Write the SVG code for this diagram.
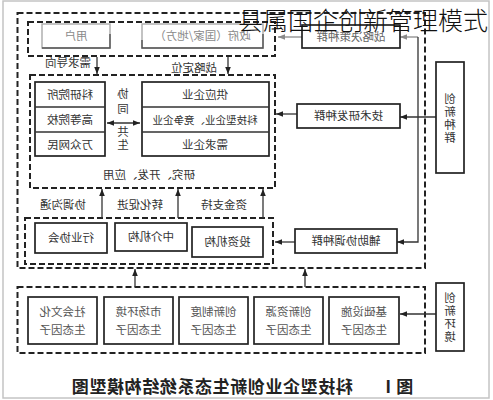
<svg xmlns="http://www.w3.org/2000/svg" width="493" height="400" viewBox="0 0 493 400">
<style>
.t{font-family:"Noto Sans CJK SC","Noto Sans CJK JP",sans-serif;font-size:11.5px;fill:#333;text-anchor:middle}
.g{fill:#8a8a8a}
.vt{writing-mode:vertical-rl;text-orientation:upright;letter-spacing:1.5px}
.cap{font-size:17px;font-weight:bold;fill:#222;letter-spacing:0.6px}
.dash{fill:none;stroke:#222;stroke-width:2;stroke-dasharray:6 3}
.box{fill:#fff;stroke:#222;stroke-width:1.7}
.lbox{fill:#fff;stroke:#aaa;stroke-width:1.4}
.ln{fill:none;stroke:#333;stroke-width:1.3}
.gl{fill:none;stroke:#8a8a8a;stroke-width:1.3}
</style>
<defs>
<marker id="ah" viewBox="0 0 10 10" refX="10" refY="5" markerWidth="7" markerHeight="7" markerUnits="userSpaceOnUse" orient="auto-start-reverse"><path d="M0,1 L10,5 L0,9 z" fill="#222"/></marker>
<marker id="ahg" viewBox="0 0 10 10" refX="10" refY="5" markerWidth="7" markerHeight="7" markerUnits="userSpaceOnUse" orient="auto-start-reverse"><path d="M0,1 L10,5 L0,9 z" fill="#8a8a8a"/></marker>
</defs>
<rect x="0" y="0" width="493" height="400" fill="#fff"/>
<rect x="3" y="1" width="486" height="397" fill="none" stroke="#c4c4c4" stroke-width="1.5"/>

<g id="frames">
<rect class="dash" x="17.5" y="13" width="407.5" height="255"/>
<rect class="dash" x="28" y="22" width="247" height="34"/>
<rect class="dash" x="30" y="75" width="245" height="113"/>
<rect class="dash" x="25" y="218" width="248" height="46"/>
<rect class="dash" x="17.5" y="287" width="407.5" height="66"/>
</g>

<g id="connectors">
<path class="gl" d="M418,37 H400" marker-end="url(#ahg)"/>
<path class="gl" d="M302,37 H278" marker-end="url(#ahg)"/>
<path class="ln" d="M418,37 V242 H397" marker-end="url(#ah)"/>
<path class="ln" d="M436,117 H400" marker-end="url(#ah)"/>
<path class="ln" d="M297,114 H276" marker-end="url(#ah)"/>
<path class="ln" d="M295,242 H275" marker-end="url(#ah)"/>
<path class="ln" d="M436,314 H400" marker-end="url(#ah)"/>
<path class="ln" d="M97,57 V74" marker-end="url(#ah)"/>
<path class="ln" d="M228,57 V74" marker-end="url(#ah)"/>
<path class="ln" d="M107,123 H140" marker-start="url(#ah)" marker-end="url(#ah)"/>
<path class="ln" d="M102,218 V189" marker-end="url(#ah)"/>
<path class="ln" d="M178,218 V189" marker-end="url(#ah)"/>
<path class="ln" d="M263,218 V189" marker-end="url(#ah)"/>
<path class="ln" d="M135,287 V269" marker-end="url(#ah)"/>
<path class="ln" d="M305,287 V269" marker-end="url(#ah)"/>
</g>

<g id="labels">
<text class="t" x="68" y="67" transform="matrix(-1 0 0 1 136 0)">需求导向</text>
<text class="t" x="194" y="72" transform="matrix(-1 0 0 1 388 0)">战略定位</text>
<text class="t" x="149" y="179" transform="matrix(-1 0 0 1 298 0)">研究、开发、应用</text>
<text class="t" x="63" y="209" transform="matrix(-1 0 0 1 126 0)">协调沟通</text>
<text class="t" x="140" y="209" transform="matrix(-1 0 0 1 280 0)">转化促进</text>
<text class="t" x="224" y="209" transform="matrix(-1 0 0 1 448 0)">资金支持</text>
<text class="t vt" x="123" y="103" style="letter-spacing:3.5px" transform="matrix(-1 0 0 1 246 0)">协同</text>
<text class="t vt" x="123" y="139" transform="matrix(-1 0 0 1 246 0)">共生</text>
</g>

<g id="node-user">
<rect class="lbox" x="42" y="24" width="68" height="24"/>
<path d="M42,48 H110 V34" fill="none" stroke="#555" stroke-width="1.4"/>
<text class="t g" x="76" y="40" transform="matrix(-1 0 0 1 152 0)">用户</text>
</g>
<g id="node-gov">
<rect class="lbox" x="142" y="24" width="121" height="24"/>
<path d="M142,40 V48 H263 V34" fill="none" stroke="#555" stroke-width="1.4"/>
<text class="t g" x="202.5" y="40" transform="matrix(-1 0 0 1 405 0)">政府（国家/地方）</text>
</g>
<g id="node-strategy">
<rect class="box" x="302" y="25" width="98" height="23" stroke-width="1.5"/>
<text class="t" x="351" y="41" style="fill:#666" transform="matrix(-1 0 0 1 702 0)">战略决策种群</text>
</g>

<g id="node-research">
<rect class="box" x="35" y="82" width="70" height="74"/>
<path class="ln" d="M35,107 H105 M35,132 H105" stroke-width="1.5"/>
<text class="t" x="70" y="99" transform="matrix(-1 0 0 1 140 0)">科研院所</text>
<text class="t" x="70" y="124" transform="matrix(-1 0 0 1 140 0)">高等院校</text>
<text class="t" x="70" y="149" transform="matrix(-1 0 0 1 140 0)">万众网民</text>
</g>
<g id="node-enterprise">
<rect class="box" x="142" y="82" width="127" height="74"/>
<path class="ln" d="M142,107 H269 M142,132 H269" stroke-width="1.5"/>
<text class="t" x="205" y="99" transform="matrix(-1 0 0 1 410 0)">供应企业</text>
<text class="t" x="205" y="124" style="font-size:10.5px" transform="matrix(-1 0 0 1 410 0)">科技型企业、竞争企业</text>
<text class="t" x="205" y="149" transform="matrix(-1 0 0 1 410 0)">需求企业</text>
</g>
<g id="node-tech">
<rect class="box" x="297" y="104" width="103" height="24"/>
<text class="t" x="348.5" y="120" transform="matrix(-1 0 0 1 697 0)">技术研发种群</text>
</g>

<g id="node-assoc">
<rect class="box" x="35" y="223" width="72" height="30"/>
<text class="t" x="71" y="242" transform="matrix(-1 0 0 1 142 0)">行业协会</text>
</g>
<g id="node-agency">
<rect class="box" x="115" y="223" width="72" height="28"/>
<text class="t" x="151" y="241" transform="matrix(-1 0 0 1 302 0)">中介机构</text>
</g>
<g id="node-invest">
<rect class="box" x="192" y="227" width="71" height="30"/>
<text class="t" x="227.5" y="246" transform="matrix(-1 0 0 1 455 0)">投资机构</text>
</g>
<g id="node-assist">
<rect class="box" x="295" y="229" width="102" height="24"/>
<text class="t" x="346" y="245" transform="matrix(-1 0 0 1 692 0)">辅助协调种群</text>
</g>

<g id="node-population">
<rect class="box" x="436" y="62" width="28" height="111"/>
<text class="t vt" x="450" y="119" transform="matrix(-1 0 0 1 900 0)">创新种群</text>
</g>
<g id="node-environment">
<rect class="box" x="436" y="283" width="28" height="68"/>
<text class="t vt" x="450" y="318" transform="matrix(-1 0 0 1 900 0)">创新环境</text>
</g>

<g id="node-f1">
<rect class="box" x="28" y="297" width="69" height="47"/>
<text class="t" x="62.5" style="fill:#555" transform="matrix(-1 0 0 1 125 0)"><tspan x="62.5" y="316">社会文化</tspan><tspan x="62.5" y="334">生态因子</tspan></text>
</g>
<g id="node-f2">
<rect class="box" x="104" y="297" width="69" height="47"/>
<text class="t" x="138.5" style="fill:#555" transform="matrix(-1 0 0 1 277 0)"><tspan x="138.5" y="316">市场环境</tspan><tspan x="138.5" y="334">生态因子</tspan></text>
</g>
<g id="node-f3">
<rect class="box" x="179" y="297" width="69" height="47"/>
<text class="t" x="213.5" style="fill:#555" transform="matrix(-1 0 0 1 427 0)"><tspan x="213.5" y="316">创新制度</tspan><tspan x="213.5" y="334">生态因子</tspan></text>
</g>
<g id="node-f4">
<rect class="box" x="254" y="297" width="69" height="47"/>
<text class="t" x="288.5" style="fill:#555" transform="matrix(-1 0 0 1 577 0)"><tspan x="288.5" y="316">创新资源</tspan><tspan x="288.5" y="334">生态因子</tspan></text>
</g>
<g id="node-f5">
<rect class="box" x="329" y="297" width="70" height="47"/>
<text class="t" x="364" style="fill:#555" transform="matrix(-1 0 0 1 728 0)"><tspan x="364" y="316">基础设施</tspan><tspan x="364" y="334">生态因子</tspan></text>
</g>

<g id="caption">
<text class="t cap" x="399" y="393" transform="matrix(-1 0 0 1 798 0)">图 I</text>
<text class="t cap" x="212" y="393" transform="matrix(-1 0 0 1 424 0)">科技型企业创新生态系统结构模型图</text>
</g>

<text x="238" y="30" style="font-family:'Noto Sans CJK SC',sans-serif;font-size:25px;font-weight:300;fill:#111">县属国企创新管理模式</text>
</svg>
